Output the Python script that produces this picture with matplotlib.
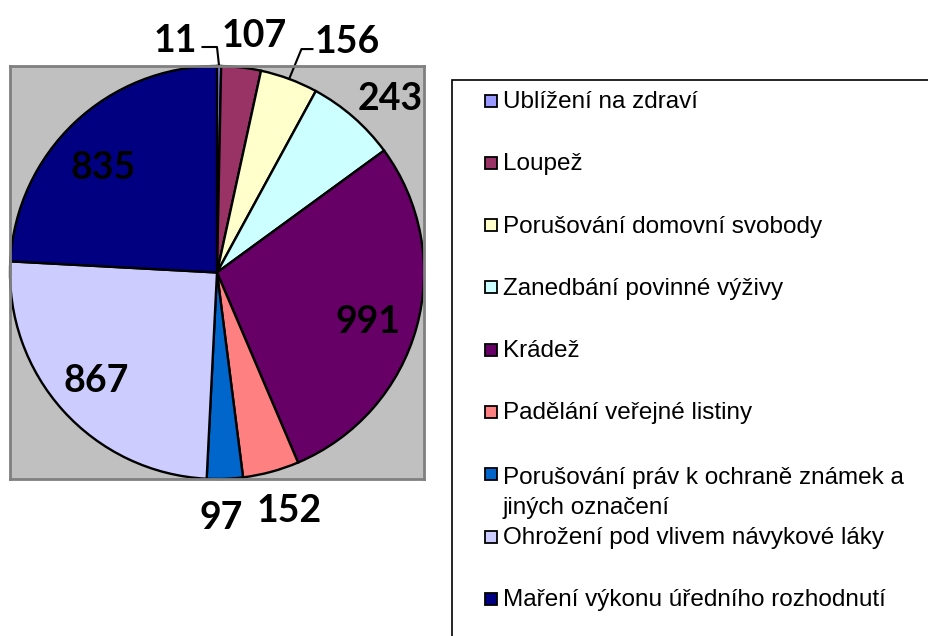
import numpy as np
import matplotlib.pyplot as plt
from matplotlib.patches import Rectangle

categories = ["Ublížení na zdraví", "Loupež", "Porušování domovní svobody",
              "Zanedbání povinné výživy", "Krádež", "Padělání veřejné listiny",
              "Porušování práv k ochraně známek a\njiných označení",
              "Ohrožení pod vlivem návykové láky",
              "Maření výkonu úředního rozhodnutí"]
values = [11, 107, 156, 243, 991, 152, 97, 867, 835]
colors = ["#9999FF", "#993366", "#FFFFCC", "#CCFFFF", "#660066",
          "#FF8080", "#0066CC", "#CCCCFF", "#000080"]

# label placement: (radius, clockwise angle offset in degrees)
label_pos = [(1.16, -10.5), (1.18, 2.1), (1.30, 8.5), (1.20, 3.1), (0.76, 1.4),
             (1.19, -2.0), (1.17, 1.1), (0.77, 1.1), (0.76, -2.8)]

W, H = 929, 636
fig = plt.figure(figsize=(W / 100, H / 100), dpi=100)

# plot area in pixels: left 10, top 66, right 424, bottom 479
ax = fig.add_axes([10 / W, 1 - 479 / H, 414 / W, 413 / H])

wedges, _ = ax.pie(values, colors=colors, startangle=90, counterclock=False,
                   radius=1.0, center=(0, 0),
                   wedgeprops=dict(edgecolor="black", linewidth=1.7))
ax.set_frame_on(True)
ax.set_facecolor("#C0C0C0")
for s in ax.spines.values():
    s.set_color("#808080")
    s.set_linewidth(2)
ax.set_xticks([])
ax.set_yticks([])
ax.set_xlim(-1, 1)
ax.set_ylim(-1, 1)
ax.set_aspect("auto")

lab_font = dict(family="Lato", weight="bold", fontsize=27, color="black")
for w, v, (r, off) in zip(wedges, values, label_pos):
    mid = np.deg2rad((w.theta1 + w.theta2) / 2 - off)
    x, y = r * np.cos(mid), r * np.sin(mid)
    ax.text(x, y - 0.02, str(v), ha="center", va="center", **lab_font)

# leader lines for the two shifted labels
for w, v in zip(wedges, values):
    mid = np.deg2rad((w.theta1 + w.theta2) / 2)
    ex, ey = np.cos(mid), np.sin(mid)
    if v == 11:
        ax.plot([ex, ex - 0.01, -0.07], [ey, 1.092, 1.092],
                color="black", lw=1.5, clip_on=False)
    if v == 156:
        ax.plot([ex, 0.408, 0.461], [ey, 1.082, 1.082],
                color="black", lw=1.5, clip_on=False)

# legend box
fig.patches.append(Rectangle((452 / W, -0.05), 0.6, 1 - 80 / H + 0.05,
                             transform=fig.transFigure, facecolor="white",
                             edgecolor="black", lw=1.2, zorder=0))
for i, (lab, c) in enumerate(zip(categories, colors)):
    yc = 100 + 62.3 * i
    extra = 32 * lab.count("\n")
    fig.patches.append(Rectangle((485 / W, 1 - (yc + 6.5) / H), 12 / W, 12 / H,
                                 transform=fig.transFigure, facecolor=c,
                                 edgecolor="black", lw=1.3))
    fig.text(503 / W, 1 - (yc + 8 + extra) / H, lab, ha="left", va="baseline",
             family="Liberation Sans", fontsize=17.5, linespacing=1.45)

fig.savefig("out.png", dpi=100)
